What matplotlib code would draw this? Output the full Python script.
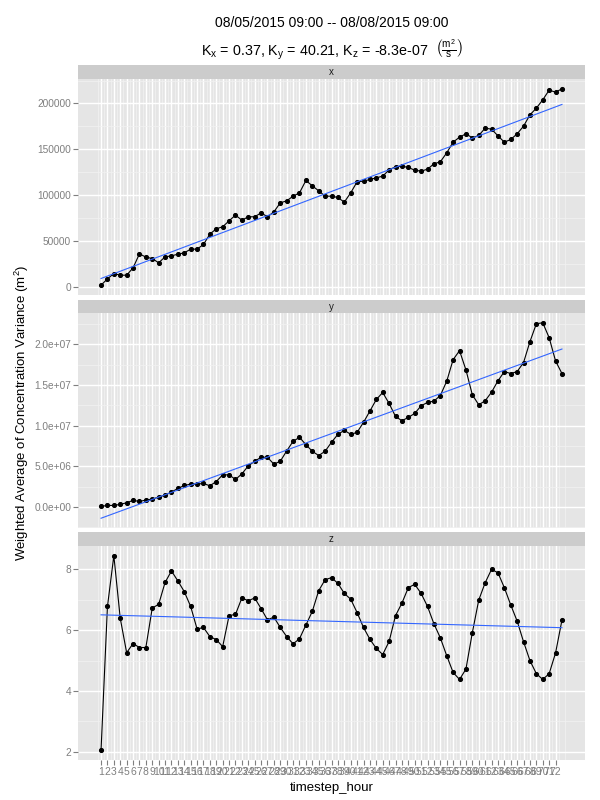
import numpy as np
import matplotlib
matplotlib.use("Agg")
import matplotlib.pyplot as plt
from matplotlib.ticker import FixedLocator

plt.rcParams['font.family'] = ['Liberation Sans', 'DejaVu Sans']
plt.rcParams['mathtext.fontset'] = 'custom'
plt.rcParams['mathtext.rm'] = 'Liberation Sans'
plt.rcParams['mathtext.it'] = 'Liberation Sans:italic'

# --- data (hour 1..73) ---
hours = list(range(1, 74))

x_var = [1800, 8700, 14500, 12700, 12700, 20700, 36000, 32400, 30900, 26200,
         32700, 33800, 35600, 37100, 41100, 41100, 46200, 57500, 63300, 65500,
         72000, 78200, 72700, 76400, 76400, 80700, 76400, 81800, 91600, 93800,
         98900, 102500, 116000, 110200, 104700, 98900, 98900, 97450, 92360, 102550,
         114550, 115270, 117090, 118900, 120730, 127640, 130910, 131640, 130180, 127270,
         126180, 128360, 134180, 136360, 146180, 157820, 163270, 166910, 162550, 165090,
         173090, 172000, 164730, 157820, 160730, 166910, 175270, 187640, 194910, 204000,
         214550, 212360, 216000]

y_var = [0.08e6, 0.2e6, 0.2e6, 0.33e6, 0.53e6, 0.82e6, 0.69e6, 0.86e6, 0.98e6, 1.22e6,
         1.47e6, 1.84e6, 2.29e6, 2.65e6, 2.82e6, 2.82e6, 2.90e6, 2.61e6, 3.14e6, 3.96e6,
         3.96e6, 3.39e6, 4.08e6, 5.06e6, 5.63e6, 6.12e6, 6.12e6, 5.27e6, 5.63e6, 6.90e6,
         8.08e6, 8.57e6, 7.67e6, 6.86e6, 6.33e6, 6.86e6, 7.96e6, 8.94e6, 9.43e6, 8.94e6,
         9.18e6, 10.41e6, 11.80e6, 13.22e6, 14.08e6, 12.73e6, 11.14e6, 10.61e6, 11.02e6, 11.51e6,
         12.45e6, 12.86e6, 13.02e6, 13.71e6, 15.47e6, 18.12e6, 19.22e6, 16.86e6, 13.80e6, 12.57e6,
         13.06e6, 14.12e6, 15.51e6, 16.65e6, 16.41e6, 16.65e6, 17.76e6, 20.33e6, 22.53e6, 22.65e6,
         20.82e6, 17.96e6, 16.41e6]

z_var = [2.05, 6.78, 8.45, 6.39, 5.26, 5.56, 5.43, 5.43, 6.73, 6.85,
         7.57, 7.95, 7.62, 7.27, 6.78, 6.04, 6.09, 5.79, 5.69, 5.46,
         6.48, 6.52, 7.06, 6.97, 7.06, 6.71, 6.34, 6.43, 6.09, 5.79,
         5.55, 5.72, 6.17, 6.62, 7.30, 7.66, 7.73, 7.54, 7.21, 7.02,
         6.58, 6.09, 5.70, 5.40, 5.20, 5.63, 6.48, 6.89, 7.40, 7.51,
         7.21, 6.78, 6.21, 5.75, 5.16, 4.61, 4.38, 4.72, 5.92, 6.99,
         7.56, 8.00, 7.89, 7.40, 6.83, 6.30, 5.62, 5.00, 4.57, 4.38,
         4.57, 5.25, 6.33]

x_breaks = list(range(1, 73))
x_tick_labels = [str(h) for h in x_breaks]

panels = ['x', 'y', 'z']
series = [x_var, y_var, z_var]
y_ticks = [[0, 50000, 100000, 150000, 200000],
           [0, 5e6, 1e7, 1.5e7, 2e7],
           [2, 4, 6, 8]]
y_tick_labels = [['0', '50000', '100000', '150000', '200000'],
                 ['0.0e+00', '5.0e+06', '1.0e+07', '1.5e+07', '2.0e+07'],
                 ['2', '4', '6', '8']]

title1 = '08/05/2015 09:00 -- 08/08/2015 09:00'
title2 = (r'K$_\mathrm{x}$ = 0.37, K$_\mathrm{y}$ = 40.21, K$_\mathrm{z}$ = -8.3e-07  '
          r'$\left(\frac{\mathrm{m}^2}{\mathrm{s}}\right)$')

# --- layout (pixel rows of each strip / panel in a 600x800 figure) ---
W, H = 600, 800
left, right = 78, 585
rows = [(65, 79, 295), (300, 313, 528), (532, 546, 760)]  # strip top, panel top, panel bottom

PANEL_BG = '#E5E5E5'
STRIP_BG = '#CCCCCC'
GREY50 = '#7F7F7F'

fig = plt.figure(figsize=(6, 8), dpi=100)

for k, (name, vals) in enumerate(zip(panels, series)):
    s_top, p_top, p_bot = rows[k]
    ax = fig.add_axes([left / W, 1 - p_bot / H, (right - left) / W, (p_bot - p_top) / H])
    sx = fig.add_axes([left / W, 1 - p_top / H, (right - left) / W, (p_top - s_top) / H])

    # strip
    sx.set_facecolor(STRIP_BG)
    sx.set_xticks([]); sx.set_yticks([])
    for sp in sx.spines.values():
        sp.set_visible(False)
    sx.text(0.5, 0.5, name, ha='center', va='center', fontsize=7, color='#1A1A1A',
            transform=sx.transAxes)

    # panel
    ax.set_facecolor(PANEL_BG)
    for sp in ax.spines.values():
        sp.set_visible(False)

    # linear fit, as geom_smooth(method = "lm") would draw it
    slope, icpt = np.polyfit(hours, vals, 1)
    fit = [slope * h + icpt for h in hours]

    ax.plot(hours, vals, color='black', lw=0.8, marker='o', ms=2.7, zorder=3)
    ax.plot(hours, fit, color='#3366FF', lw=0.8, zorder=4)
    ax.margins(x=0.05, y=0.05)

    yt = y_ticks[k]
    ax.yaxis.set_major_locator(FixedLocator(yt))
    ax.set_yticklabels(y_tick_labels[k])
    step = yt[1] - yt[0]
    ax.yaxis.set_minor_locator(FixedLocator([yt[0] - step / 2] + [t + step / 2 for t in yt]))
    ax.xaxis.set_major_locator(FixedLocator(x_breaks))
    ax.xaxis.set_minor_locator(FixedLocator([b + 0.5 for b in range(0, 74)]))

    ax.grid(which='minor', color='#F2F2F2', lw=0.5, zorder=0)
    ax.grid(which='major', color='white', lw=1.0, zorder=1)
    ax.set_axisbelow(True)

    ax.tick_params(axis='y', which='major', colors=GREY50, labelsize=7.3, length=3.5,
                   width=0.8, pad=1.5)
    ax.tick_params(axis='both', which='minor', length=0)
    if k < 2:
        ax.tick_params(axis='x', which='major', length=0, labelbottom=False)
    else:
        ax.set_xticklabels(x_tick_labels)
        ax.tick_params(axis='x', which='major', colors=GREY50, labelsize=7.5, length=3.5,
                       width=0.8, pad=1.5)

fig.text((left + right) / 2 / W, 1 - 788 / H, 'timestep_hour', ha='center', va='center',
         fontsize=9.5)
fig.text(22 / W, 1 - 413 / H, r'Weighted Average of Concentration Variance (m$^2$)',
         ha='center', va='center', rotation=90, fontsize=9.5)
fig.text((left + right) / 2 / W, 1 - 23 / H, title1, ha='center', va='center', fontsize=10)
fig.text((left + right) / 2 / W, 1 - 50 / H, title2, ha='center', va='center', fontsize=10.3)

fig.savefig('out.png', dpi=100, facecolor='white')
